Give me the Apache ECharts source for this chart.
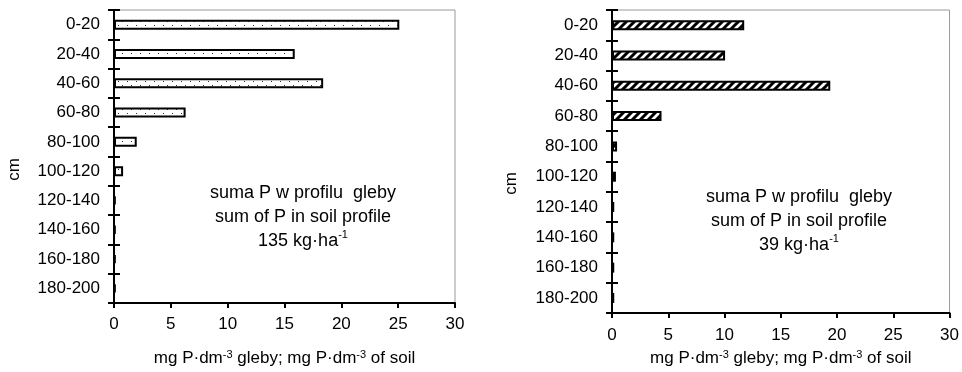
<!DOCTYPE html>
<html>
<head>
<meta charset="utf-8">
<script src="https://cdn.jsdelivr.net/npm/echarts@6/dist/echarts.min.js"></script>
<style>
  html, body { margin: 0; padding: 0; background: #fff; }
  #chart { width: 962px; height: 372px; }
</style>
</head>
<body>
<div id="chart"></div>
<script>
// depth layers (cm)
const categories = ['0-20', '20-40', '40-60', '60-80', '80-100', '100-120', '120-140', '140-160', '160-180', '180-200']
// mg P per dm3 of soil
const leftValues = [25.1, 15.9, 18.4, 6.3, 2.0, 0.8, 0.15, 0.15, 0.15, 0.15]
const rightValues = [11.75, 10.05, 19.4, 4.4, 0.45, 0.35, 0.2, 0.2, 0.2, 0.2]
const leftSum = '135'
const rightSum = '39'

const FONT = '"Liberation Sans", Arial, sans-serif'

// dotted fill for the left bars
function dotPattern () {
  const c = document.createElement('canvas')
  c.width = 9
  c.height = 8
  const ctx = c.getContext('2d')
  ctx.fillStyle = '#fff'
  ctx.fillRect(0, 0, 9, 8)
  ctx.fillStyle = '#333'
  ctx.fillRect(1, 1, 1, 1)
  ctx.fillRect(5, 5, 1, 1)
  return c
}

// diagonal hatch for the right bars
function hatchPattern () {
  const c = document.createElement('canvas')
  c.width = 8
  c.height = 8
  const ctx = c.getContext('2d')
  ctx.fillStyle = '#fff'
  ctx.fillRect(0, 0, 8, 8)
  ctx.strokeStyle = '#000'
  ctx.lineWidth = 3
  ctx.beginPath()
  ctx.moveTo(-4, 4); ctx.lineTo(4, -4)
  ctx.moveTo(0, 8); ctx.lineTo(8, 0)
  ctx.moveTo(4, 12); ctx.lineTo(12, 4)
  ctx.stroke()
  return c
}

const rich = {
  n: { fontSize: 17, fontFamily: FONT, color: '#000' },
  sup: { fontSize: 11, fontFamily: FONT, color: '#000', verticalAlign: 'top', padding: [0, 0, 8, 0] }
}
const xTitle = '{n|mg P·dm}{sup|-3}{n| gleby; mg P·dm}{sup|-3}{n| of soil}'

function makeGrid (left, height, width) {
  return {
    left: left, top: 10, width: width, height: height,
    show: true, borderColor: '#999', borderWidth: 1, backgroundColor: 'transparent'
  }
}

function makeX (idx, gap, margin) {
  return {
    gridIndex: idx, type: 'value', min: 0, max: 30, interval: 5,
    axisLine: { show: true, lineStyle: { color: '#000', width: 2 } },
    axisTick: { show: true, length: 5, lineStyle: { color: '#000', width: 2 } },
    axisLabel: { fontSize: 17, fontFamily: FONT, color: '#000', margin: margin },
    splitLine: { show: false },
    name: xTitle, nameLocation: 'middle', nameGap: gap,
    nameTextStyle: { rich: rich }
  }
}

function makeY (idx, inside) {
  return {
    gridIndex: idx, type: 'category', data: categories, inverse: true, position: 'left',
    axisLine: { show: true, lineStyle: { color: '#000', width: 2 } },
    axisTick: { show: true, inside: inside, length: 6, lineStyle: { color: '#000', width: 2 } },
    axisLabel: { show: !inside, fontSize: 17, fontFamily: FONT, color: '#000', margin: 14 },
    splitLine: { show: false }
  }
}

function makeNote (cx, y, sum) {
  const f = '18px ' + FONT
  return {
    type: 'text', x: cx, y: y,
    style: {
      text: '{n|suma P w profilu  gleby}\n{n|sum of P in soil profile}\n{n|' + sum + ' kg·ha}{sup|-1}',
      align: 'center',
      verticalAlign: 'top',
      font: f,
      lineHeight: 24,
      rich: {
        n: { font: f, fill: '#000', lineHeight: 24 },
        sup: { font: '11px ' + FONT, fill: '#000', verticalAlign: 'top', padding: [0, 0, 8, 0], lineHeight: 24 }
      }
    }
  }
}

const chart = echarts.init(document.getElementById('chart'), null, { renderer: 'canvas' })

const option = {
  animation: false,
  backgroundColor: '#fff',
  grid: [makeGrid(114, 296, 341), makeGrid(612, 306, 339)],
  xAxis: [makeX(0, 46, 13), makeX(1, 34, 14)],
  yAxis: [makeY(0, false), makeY(0, true), makeY(1, false), makeY(1, true)],
  series: [
    {
      type: 'bar', xAxisIndex: 0, yAxisIndex: 0, data: leftValues, barWidth: 10,
      itemStyle: { color: { image: dotPattern(), repeat: 'repeat' }, borderColor: '#000', borderWidth: 2 }
    },
    {
      type: 'bar', xAxisIndex: 1, yAxisIndex: 2, data: rightValues, barWidth: 10,
      itemStyle: { color: { image: hatchPattern(), repeat: 'repeat' }, borderColor: '#000', borderWidth: 2 }
    }
  ],
  graphic: [
    { type: 'text', left: 6, top: 158, rotation: Math.PI / 2,
      style: { text: 'cm', font: '17px ' + FONT, fill: '#000' } },
    { type: 'text', left: 503, top: 172, rotation: Math.PI / 2,
      style: { text: 'cm', font: '17px ' + FONT, fill: '#000' } },
    makeNote(303, 181, leftSum),
    makeNote(799, 185, rightSum)
  ]
}

chart.setOption(option)
</script>
</body>
</html>
